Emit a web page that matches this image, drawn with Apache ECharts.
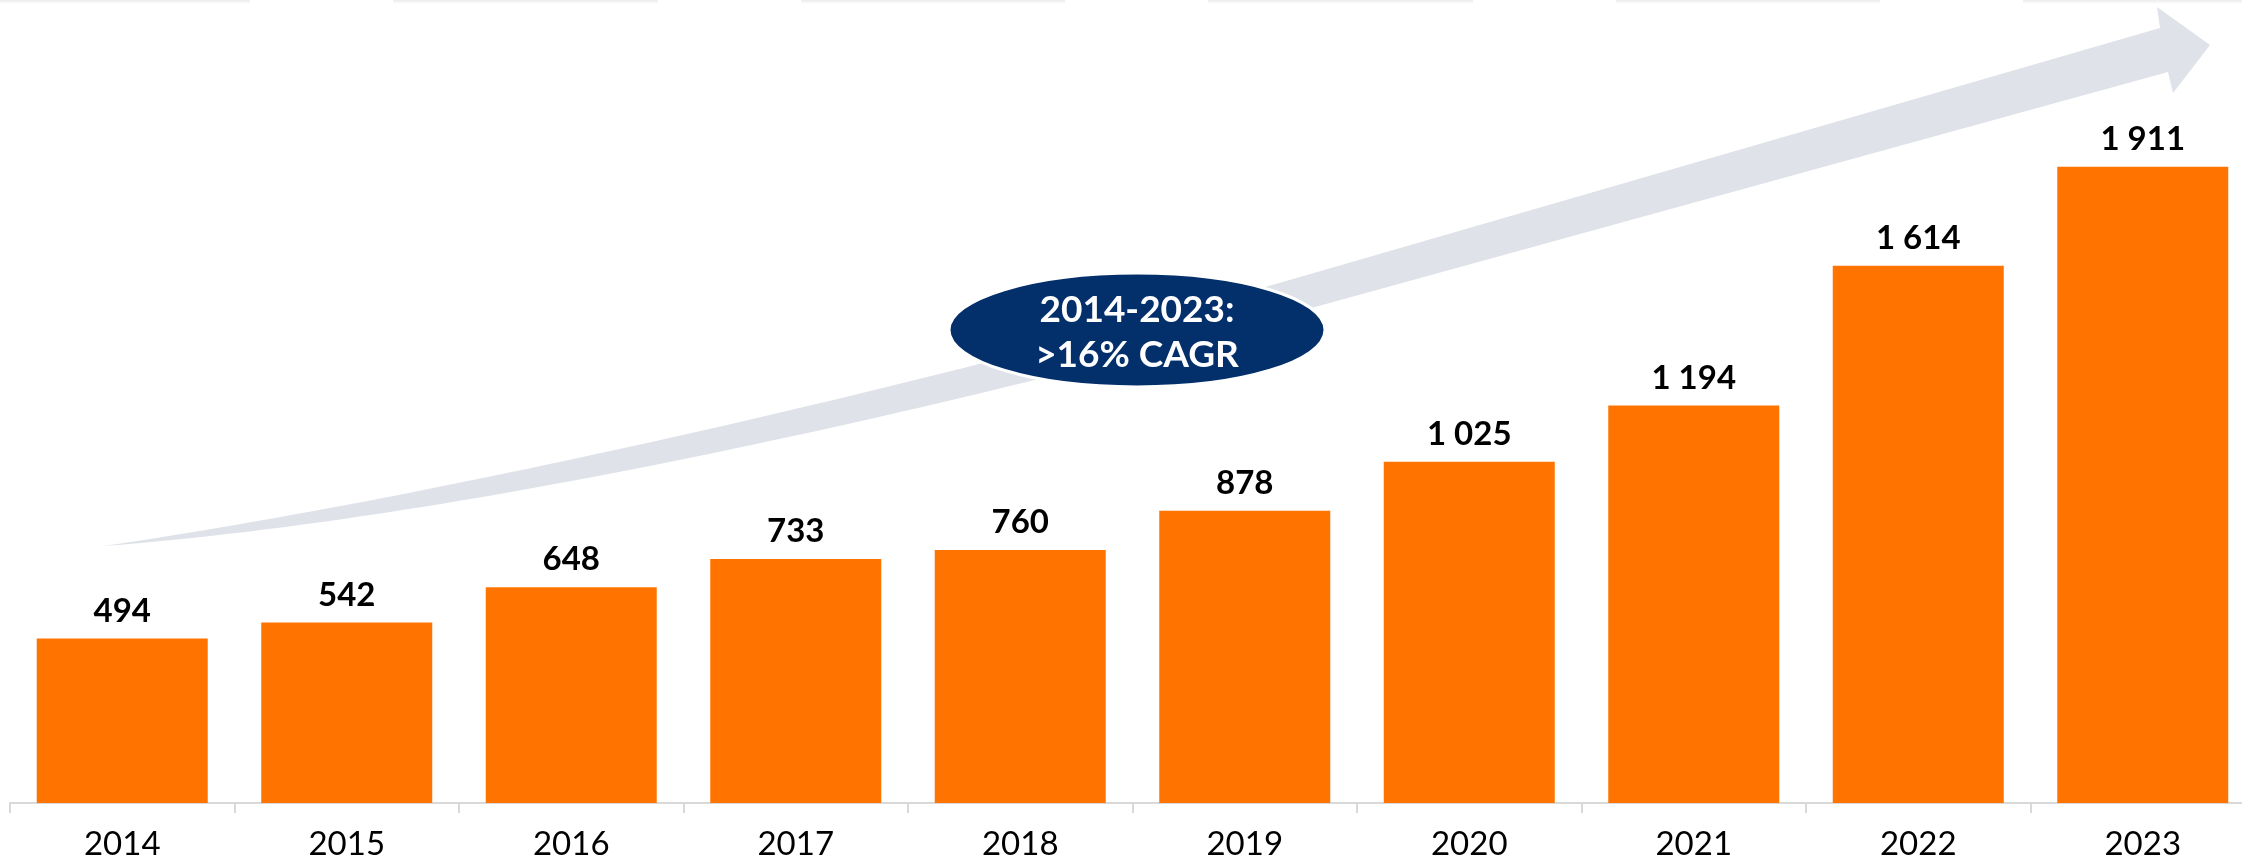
<!DOCTYPE html>
<html>
<head>
<meta charset="utf-8">
<script src="https://cdn.jsdelivr.net/npm/echarts@6/dist/echarts.min.js"></script>
<style>
html,body{margin:0;padding:0;background:#fff;}
#chart{width:2242px;height:865px;}
</style>
</head>
<body>
<div id="chart"></div>
<script>
const years = ['2014','2015','2016','2017','2018','2019','2020','2021','2022','2023'];
const volumes = [494, 542, 648, 733, 760, 878, 1025, 1194, 1614, 1911];
const cagrLine1 = '2014-2023:';
const cagrLine2 = '>16% CAGR';

function fmt(v){ return String(v).replace(/\B(?=(\d{3})+(?!\d))/g, ' '); }

function bez(p0,p1,p2,p3,n){
  const pts=[];
  for(let i=0;i<=n;i++){
    const t=i/n, u=1-t;
    pts.push([
      u*u*u*p0[0]+3*u*u*t*p1[0]+3*u*t*t*p2[0]+t*t*t*p3[0],
      u*u*u*p0[1]+3*u*u*t*p1[1]+3*u*t*t*p2[1]+t*t*t*p3[1]
    ]);
  }
  return pts;
}
// decorative growth arrow
const upper = bez([103,546],[420,500],[900,393],[1300,277],60);
const lower = bez([103,546],[450,520],[915,417],[1315,307],60).reverse();
const arrowPts = upper.concat([[2160,28],[2157,7],[2210,45],[2173,93],[2168,72]]).concat(lower);

const topShadows = [[0,250],[393,658],[801,1065],[1208,1473],[1616,1880],[2023,2242]].map(s=>({
  type:'rect', z:0, shape:{x:s[0],y:0,width:s[1]-s[0],height:4},
  style:{fill:new echarts.graphic.LinearGradient(0,0,0,1,[{offset:0,color:'#ececec'},{offset:1,color:'#ffffff'}])}
}));

const chart = echarts.init(document.getElementById('chart'));
chart.setOption({
  animation:false,
  backgroundColor:'#ffffff',
  grid:{left:10, right:-13, top:4, bottom:62, containLabel:false, outerBoundsMode:'none'},
  xAxis:{
    type:'category', data:years, boundaryGap:true,
    axisLine:{show:true, lineStyle:{color:'#d9d9d9', width:2}},
    axisTick:{show:true, length:10, interval:0, lineStyle:{color:'#d9d9d9', width:2}},
    axisLabel:{color:'#000', fontFamily:'Lato', fontSize:33, margin:25, lineHeight:33}
  },
  yAxis:{type:'value', min:0, max:2400, interval:400, show:false, splitLine:{show:false}},
  series:[{
    type:'bar', data:volumes, barWidth:171,
    itemStyle:{color:'#ff7300'},
    label:{show:true, position:'top', distance:11, color:'#000', fontFamily:'Lato', fontWeight:'bold', fontSize:33, lineHeight:33,
      formatter:p=>fmt(p.value)}
  }],
  graphic: topShadows.concat([
    {type:'polygon', z:1, shape:{points:arrowPts}, style:{fill:'#dfe2e9'}},
    {type:'ellipse', z:10, shape:{cx:1137, cy:330, rx:188, ry:57}, style:{fill:'#032f6b', stroke:'#ffffff', lineWidth:3}},
    {type:'text', z:11, x:1137, y:310, style:{text:cagrLine1, fill:'#fff', font:'bold 37px Lato', textAlign:'center', textVerticalAlign:'middle'}},
    {type:'text', z:11, x:1137, y:355, style:{text:cagrLine2, fill:'#fff', font:'bold 37px Lato', textAlign:'center', textVerticalAlign:'middle'}}
  ])
});
</script>
</body>
</html>
